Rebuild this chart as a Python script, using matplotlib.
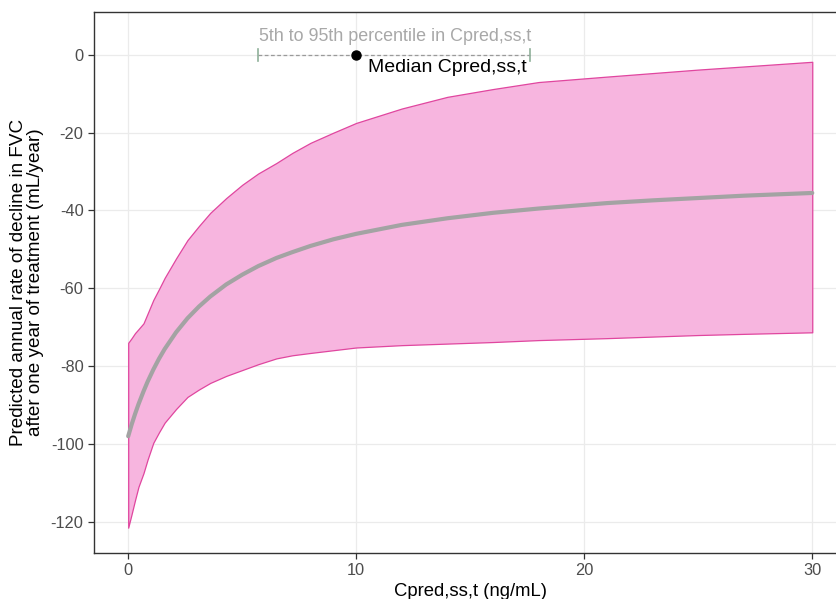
import matplotlib
matplotlib.use("Agg")
import matplotlib.pyplot as plt

plt.rcParams['font.family'] = ['Liberation Sans', 'DejaVu Sans']
plt.rcParams['axes.unicode_minus'] = False

# concentration grid (ng/mL)
conc = [0, 0.15, 0.3, 0.45, 0.67, 0.85, 1.1, 1.35, 1.6, 2.1, 2.6, 3.1, 3.6, 4.3,
        5, 5.7, 6.5, 7.2, 8, 9, 10, 12, 14, 16, 18, 21, 23, 25, 27, 30]
median = [-98, -95.0, -92.3, -89.8, -86.5, -84.0, -80.9, -78.1, -75.6, -71.3,
          -67.7, -64.7, -62.1, -59.0, -56.5, -54.3, -52.2, -50.7, -49.1, -47.4,
          -46, -43.7, -42, -40.6, -39.5, -38.1, -37.4, -36.8, -36.2, -35.5]
upper = [-74, -72.8, -71.5, -70.5, -69, -66.5, -63, -60.2, -57.3, -52.3,
         -47.6, -44, -40.6, -36.8, -33.4, -30.5, -27.8, -25.2, -22.6, -20,
         -17.5, -13.8, -10.8, -8.8, -7, -5.6, -4.7, -3.8, -3.0, -1.8]
lower = [-121.5, -118, -114.4, -111, -107.5, -104, -99.7, -97, -94.5, -91,
         -87.9, -86, -84.3, -82.5, -81, -79.5, -78, -77.2, -76.6, -75.9,
         -75.2, -74.6, -74.2, -73.8, -73.3, -72.8, -72.4, -72, -71.7, -71.3]

# exposure annotation
c_p5 = 5.7
c_p95 = 17.6
c_med = 10.0

fig = plt.figure(figsize=(8.37, 5.99), dpi=100)
ax = fig.add_axes([0.1123, 0.0768, 0.899, 0.9032])

ax.fill_between(conc, lower, upper, facecolor='#f7b5df', edgecolor='#e0469f',
                linewidth=0.9, zorder=2)
ax.plot(conc, median, color='#a3a3a3', linewidth=3, solid_capstyle='round', zorder=3)

ax.plot([c_p5, c_p95], [0, 0], linestyle=(0, (3, 2)), color='#9a9a9a', linewidth=0.9, zorder=4)
for c in [c_p5, c_p95]:
    ax.plot([c, c], [-1.6, 1.6], color='#8fb09a', linewidth=1.2, zorder=4)
ax.plot([c_med], [0], 'o', color='black', markersize=6.5, zorder=5)

ax.text(11.7, 4.6, '5th to 95th percentile in Cpred,ss,t', color='#a8a8a8',
        fontsize=12.9, ha='center', va='center', zorder=5)
ax.text(10.5, -3.3, 'Median Cpred,ss,t', color='black', fontsize=14,
        ha='left', va='center', zorder=5)

ax.set_xlim(-1.5, 31.5)
ax.set_ylim(-128, 11)
ax.set_xticks([0, 10, 20, 30])
ax.set_yticks([0, -20, -40, -60, -80, -100, -120])
ax.grid(True, color='#ebebeb', linewidth=0.9, zorder=0)
ax.set_axisbelow(True)

for s in ax.spines.values():
    s.set_color('#333333')
    s.set_linewidth(1.0)

ax.tick_params(direction='out', length=4, width=0.9, color='#333333',
               labelcolor='#4d4d4d', labelsize=11.8)

ax.set_xlabel('Cpred,ss,t (ng/mL)', fontsize=13.3, color='black', labelpad=3)
ax.set_ylabel('Predicted annual rate of decline in FVC\nafter one year of treatment (mL/year)',
              fontsize=13.6, color='black', labelpad=5, linespacing=0.95)

fig.savefig('out.png', dpi=100)
